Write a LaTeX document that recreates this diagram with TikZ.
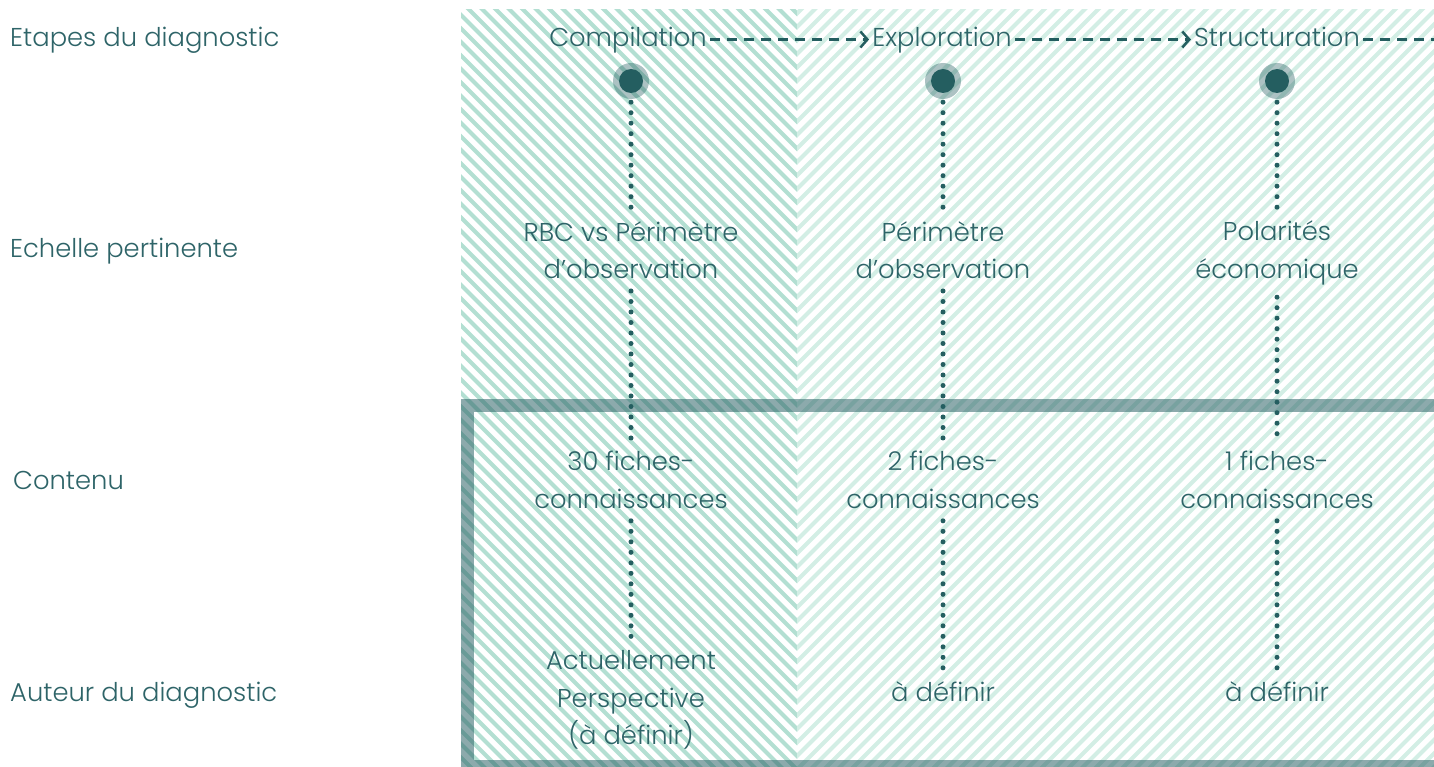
\documentclass[tikz,border=0pt]{standalone}
\usepackage{fontspec}
\setmainfont{Poppins Light}
\usetikzlibrary{arrows.meta}
\definecolor{txt}{HTML}{2E6468}
\definecolor{dark}{HTML}{245E60}
\definecolor{hatchL}{HTML}{B3DFD2}
\definecolor{hatchR}{HTML}{D3EEE5}
\begin{document}
\begin{tikzpicture}[x=1pt,y=-1pt,
  lbl/.style={text=txt, inner sep=0pt, align=center, font=\fontsize{25.8}{37.5}\selectfont},
  side/.style={lbl, anchor=base west, align=left},
  stage/.style={lbl, inner sep=3pt, text height=20pt, text depth=5pt},
  hatchl/.style={draw=hatchL, line width=4pt},
  hatchr/.style={draw=hatchR, line width=4pt},
  frame/.style={draw=txt, draw opacity=0.55, line width=13pt},
  ring/.style={circle, fill=dark, fill opacity=0.38, minimum size=36pt, inner sep=0pt},
  core/.style={circle, fill=dark, minimum size=24pt, inner sep=0pt},
  dots/.style={draw=dark, line width=5pt, line cap=round, dash pattern=on 0pt off 10.5pt},
  dasharrow/.style={draw=dark, line width=2.5pt, dash pattern=on 10pt off 7pt, -{Straight Barb[length=7pt,width=16pt]}},
  dashline/.style={draw=dark, line width=2.5pt, dash pattern=on 10pt off 7pt}
]
\useasboundingbox (0,0) rectangle (1434,767);
% hatching
\begin{scope}
  \clip (461,10) rectangle (797,767);
  \foreach \i in {0,...,84} { \draw[hatchl] ({-310+13.5*\i},0) -- ++(780,780); }
\end{scope}
\begin{scope}
  \clip (797,10) rectangle (1434,767);
  \foreach \i in {0,...,106} { \draw[hatchr] ({797+13.5*\i},0) -- ++(-780,780); }
\end{scope}
% frame
\draw[frame] (467,405.5) rectangle (1460,766.5);
% side labels
\node[side] (L1) at (10,47) {Etapes du diagnostic};
\node[side] (L2) at (10,258) {Echelle pertinente};
\node[side] (L3) at (13,489) {Contenu};
\node[side] (L4) at (10,701) {Auteur du diagnostic};
% stages
\node[stage] (comp) at (628,39.5) {Compilation};
\node[stage] (expl) at (942,39.5) {Exploration};
\node[stage] (struc) at (1277,39.5) {Structuration};
\coordinate (outR) at (1440,39.5);
\draw[dasharrow] (comp.east) -- (expl.west);
\draw[dasharrow] (expl.east) -- (struc.west);
\draw[dashline] (struc.east) -- (outR);
% circles
\node[ring] (c1) at (631,81) {};
\node[ring] (c2) at (943,81) {};
\node[ring] (c3) at (1277,81) {};
\node[core] (k1) at (c1) {};
\node[core] (k2) at (c2) {};
\node[core] (k3) at (c3) {};
% row 2
\node[lbl] (e1) at (631,250) {RBC vs Périmètre\\d’observation};
\node[lbl] (e2) at (943,250) {Périmètre\\d’observation};
\node[lbl] (e3) at (1277,253) {Polarités\\économique};
% row 3
\node[lbl] (f1) at (631,480) {30 fiches-\\connaissances};
\node[lbl] (f2) at (943,480) {2 fiches-\\connaissances};
\node[lbl] (f3) at (1277,480) {1 fiches-\\connaissances};
% row 4
\node[lbl] (a1) at (631,700) {Actuellement\\Perspective\\(à définir)};
\node[lbl] (a2) at (943,692) {à définir};
\node[lbl] (a3) at (1277,692) {à définir};
% dotted connectors
\foreach \c in {1,2,3} {
  \draw[dots, shorten <=3pt, shorten >=8pt] (c\c.south) -- (e\c.north);
  \draw[dots, shorten <=12pt, shorten >=10pt] (e\c.south) -- (f\c.north);
  \draw[dots, shorten <=12pt, shorten >=10pt] (f\c.south) -- (a\c.north);
}
\end{tikzpicture}
\end{document}
